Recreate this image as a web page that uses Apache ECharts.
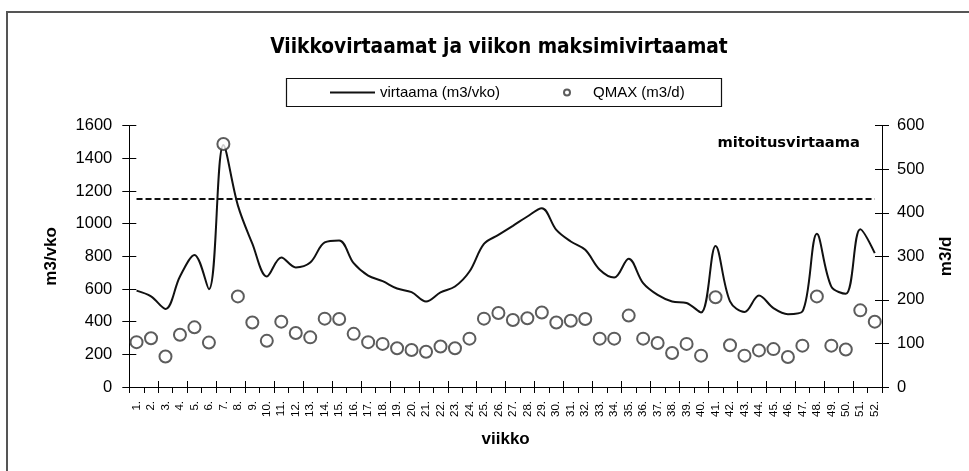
<!DOCTYPE html>
<html>
<head>
<meta charset="utf-8">
<script src="https://cdn.jsdelivr.net/npm/echarts@6/dist/echarts.min.js"></script>
<style>
html,body{margin:0;padding:0;background:#fff;}
#chart{width:969px;height:471px;}
</style>
</head>
<body>
<div id="chart"></div>
<script>
var weeks = ['1.','2.','3.','4.','5.','6.','7.','8.','9.','10.','11.','12.','13.','14.','15.','16.','17.','18.','19.','20.','21.','22.','23.','24.','25.','26.','27.','28.','29.','30.','31.','32.','33.','34.','35.','36.','37.','38.','39.','40.','41.','42.','43.','44.','45.','46.','47.','48.','49.','50.','51.','52.'];
var virtaama = [590,555,478,677,809,599,1482,1112,878,677,793,732,762,885,897,758,682,648,603,581,524,579,615,707,876,931,987,1044,1095,962,891,840,718,670,785,636,564,524,514,456,864,524,459,560,483,446,462,938,615,571,966,820];
var qmax = [103,112,70,120,137,102,558,208,148,106,150,124,114,157,156,122,103,99,89,85,81,93,89,111,157,170,154,158,171,148,152,156,111,111,164,111,101,78,99,72,206,96,72,84,87,69,95,208,95,86,176,150];
var mitoitusvirtaama = 1150;
var leftTicks = {min:0, max:1600, interval:200};
var rightTicks = {min:0, max:600, interval:100};

var chart = echarts.init(document.getElementById('chart'), null, {renderer:'canvas'});
var sans = "'Liberation Sans', Arial, sans-serif";
var boldFont = "'DejaVu Sans Condensed', 'DejaVu Sans', sans-serif";
var plain = function (v) { return String(v); };

chart.setOption({
  backgroundColor:'#fff',
  animation:false,
  title:{
    text:'Viikkovirtaamat ja viikon maksimivirtaamat',
    left:494, top:32, textAlign:'center',
    textStyle:{fontFamily:boldFont, fontWeight:'bold', fontSize:20.7, color:'#000'}
  },
  legend:[
    {data:[{name:'virtaama (m3/vko)', icon:'rect'}], left:330, top:85, padding:0, itemWidth:45, itemHeight:2, itemGap:0,
     itemStyle:{color:'#111'},
     textStyle:{fontFamily:sans, fontSize:15, color:'#000'}},
    {data:[{name:'QMAX (m3/d)', icon:'emptyCircle'}], left:563, top:85, padding:0, itemWidth:42, itemHeight:6,
     itemStyle:{color:'#333', borderColor:'#333', borderWidth:1.1},
     textStyle:{fontFamily:sans, fontSize:15, color:'#000'}}
  ],
  graphic:[
    {type:'rect', shape:{x:7, y:12, width:990, height:490}, style:{fill:null, stroke:'#555', lineWidth:2}, silent:true},
    {type:'rect', shape:{x:286.5, y:78.5, width:435, height:28}, style:{fill:null, stroke:'#111', lineWidth:1.2}, silent:true},
    {type:'text', x:860, y:143, style:{text:'mitoitusvirtaama', font:"bold 14.7px 'DejaVu Sans', sans-serif", fill:'#000', textAlign:'right', textVerticalAlign:'middle'}, silent:true}
  ],
  grid:{left:129.3, right:87, top:125.7, bottom:84, containLabel:false},
  xAxis:[
    {type:'category', data:weeks, boundaryGap:true, position:'bottom',
     name:'viikko', nameLocation:'middle', nameGap:44,
     nameTextStyle:{fontFamily:sans, fontWeight:'bold', fontSize:17, color:'#000'},
     axisLine:{lineStyle:{color:'#000', width:1}},
     axisTick:{show:true, inside:false, length:6, lineStyle:{color:'#000'}},
     axisLabel:{rotate:90, interval:0, margin:14, fontFamily:sans, fontSize:11.5, color:'#000'},
     splitLine:{show:false}},
    {type:'category', data:weeks, boundaryGap:true, position:'bottom', offset:0,
     axisLine:{show:false},
     axisTick:{show:true, inside:true, length:6, lineStyle:{color:'#000'}},
     axisLabel:{show:false}, splitLine:{show:false}}
  ],
  yAxis:[
    {type:'value', position:'left', min:leftTicks.min, max:leftTicks.max, interval:leftTicks.interval,
     name:'m3/vko', nameLocation:'middle', nameGap:69,
     nameTextStyle:{fontFamily:sans, fontWeight:'bold', fontSize:17, color:'#000'},
     axisLine:{show:true, lineStyle:{color:'#000', width:1}},
     axisTick:{show:true, inside:false, length:7, lineStyle:{color:'#000'}},
     axisLabel:{margin:17, fontFamily:sans, fontSize:16.5, color:'#000', formatter:plain},
     splitLine:{show:false}},
    {type:'value', position:'right', min:rightTicks.min, max:rightTicks.max, interval:rightTicks.interval,
     name:'m3/d', nameLocation:'middle', nameGap:56,
     nameTextStyle:{fontFamily:sans, fontWeight:'bold', fontSize:17, color:'#000'},
     axisLine:{show:true, lineStyle:{color:'#000', width:1}},
     axisTick:{show:true, inside:false, length:7, lineStyle:{color:'#000'}},
     axisLabel:{margin:15, fontFamily:sans, fontSize:16.5, color:'#000', formatter:plain},
     splitLine:{show:false}},
    {type:'value', position:'left', min:leftTicks.min, max:leftTicks.max, interval:leftTicks.interval,
     axisLine:{show:false}, axisTick:{show:true, inside:true, length:7, lineStyle:{color:'#000'}},
     axisLabel:{show:false}, splitLine:{show:false}},
    {type:'value', position:'right', min:rightTicks.min, max:rightTicks.max, interval:rightTicks.interval,
     axisLine:{show:false}, axisTick:{show:true, inside:true, length:7, lineStyle:{color:'#000'}},
     axisLabel:{show:false}, splitLine:{show:false}}
  ],
  series:[
    {name:'virtaama (m3/vko)', type:'line', xAxisIndex:0, yAxisIndex:0, data:virtaama,
     smooth:0.35, symbol:'none', showSymbol:false,
     lineStyle:{color:'#111', width:2}, itemStyle:{color:'#111'}, z:2,
     markLine:{silent:true, symbol:'none', label:{show:false},
       lineStyle:{color:'#111', width:1.8, type:[6,3]},
       data:[[{coord:[0, mitoitusvirtaama]},{coord:[weeks.length-1, mitoitusvirtaama]}]]}},
    {name:'QMAX (m3/d)', type:'scatter', xAxisIndex:0, yAxisIndex:1, data:qmax,
     symbol:'emptyCircle', symbolSize:12,
     itemStyle:{color:'#333', borderColor:'#333', borderWidth:1.5}, z:3}
  ]
});
</script>
</body>
</html>
